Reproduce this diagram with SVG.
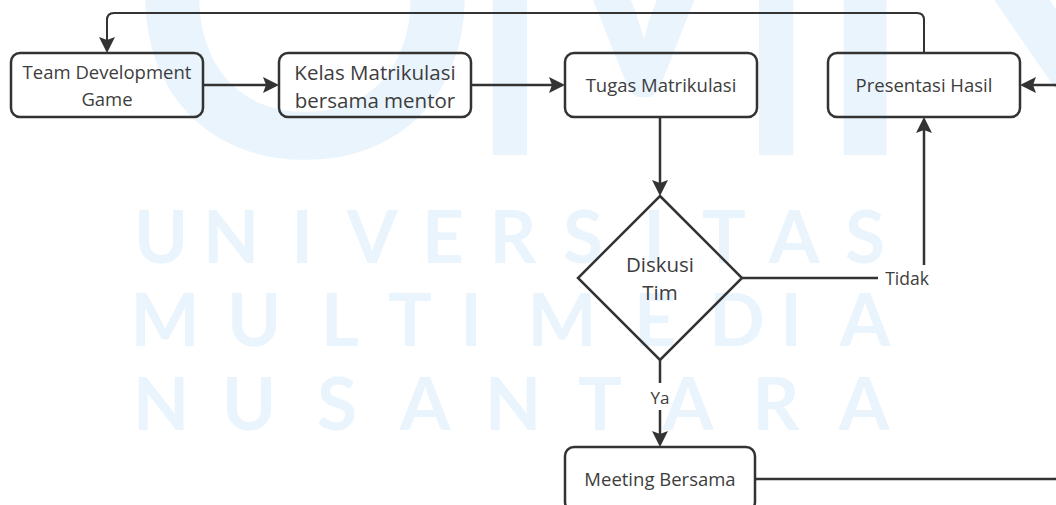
<svg xmlns="http://www.w3.org/2000/svg" width="1056" height="505" viewBox="0 0 1056 505">
<defs>
<style>
.wm{fill:#e9f4fd;font-family:Lato,"Noto Sans",sans-serif;text-anchor:middle}
.big{font-size:560px}
.row{font-size:73px;font-weight:bold}
.box{fill:none;stroke:#333;stroke-width:2.5}
.lbl{fill:#3d3d3d;font-family:"Open Sans","Noto Sans",sans-serif;text-anchor:middle}
.ln{fill:none;stroke:#333;stroke-width:2.5}
.thin{stroke-width:2}
</style>
<marker id="ah" markerUnits="userSpaceOnUse" markerWidth="20" markerHeight="20" refX="8" refY="8" orient="auto">
<path d="M0,0 L16,8 L0,16 L3,8 Z" fill="#333"/>
</marker>
</defs>
<rect width="1056" height="505" fill="#fff"/>
<g id="watermark">
<text class="wm big" x="305" y="155">U</text>
<text class="wm big" transform="translate(643,155) scale(0.72,1)" x="0" y="0">M</text>
<text class="wm big" transform="translate(990,155) scale(0.9,1)" x="0" y="0">N</text>
<text class="wm row" x="161,231,302,372,443,513,583,654,724,794,865" y="263">UNIVERSITAS</text>
<text class="wm row" x="165,254,340,410,471,562,655,737,791,865" y="346">MULTIMEDIA</text>
<text class="wm row" x="161,249,337,425,513,600,688,776,864" y="430">NUSANTARA</text>
</g>
<g id="connectors">
<path class="ln thin" d="M924,53 V20 Q924,13 917,13 H114 Q107,13 107,20 V45" marker-end="url(#ah)"/>
<path class="ln" d="M203,85 H271" marker-end="url(#ah)"/>
<path class="ln" d="M471,85 H557" marker-end="url(#ah)"/>
<path class="ln" d="M660,117 V188" marker-end="url(#ah)"/>
<path class="ln" d="M742,278 H878"/>
<path class="ln" d="M924,265 V125" marker-end="url(#ah)"/>
<text class="lbl" x="907" y="285" font-size="17.5">Tidak</text>
<path class="ln" d="M660,360 V383"/>
<path class="ln" d="M660,410 V439" marker-end="url(#ah)"/>
<text class="lbl" x="660" y="404" font-size="17">Ya</text>
<path class="ln" d="M755,479 H1054 Q1062,479 1062,471 V93 Q1062,85 1054,85 H1028" marker-end="url(#ah)"/>
</g>
<g id="team">
<rect class="box" x="11" y="53" width="192" height="64" rx="9"/>
<text class="lbl" font-size="18.5" x="107" y="79">Team Development</text>
<text class="lbl" font-size="18.5" x="107" y="106">Game</text>
</g>
<g id="kelas">
<rect class="box" x="279" y="53" width="192" height="64" rx="9"/>
<text class="lbl" font-size="20.5" x="375" y="80">Kelas Matrikulasi</text>
<text class="lbl" font-size="20.5" x="375" y="108">bersama mentor</text>
</g>
<g id="tugas">
<rect class="box" x="565" y="53" width="192" height="64" rx="9"/>
<text class="lbl" font-size="18.5" x="661" y="92">Tugas Matrikulasi</text>
</g>
<g id="presentasi">
<rect class="box" x="828" y="53" width="192" height="64" rx="9"/>
<text class="lbl" font-size="18.5" x="924" y="92">Presentasi Hasil</text>
</g>
<g id="diskusi">
<polygon class="box" points="660,196 742,278 660,360 578,278"/>
<text class="lbl" font-size="20.5" x="660" y="272">Diskusi</text>
<text class="lbl" font-size="20.5" x="660" y="300">Tim</text>
</g>
<g id="meeting">
<rect class="box" x="565" y="447" width="190" height="64" rx="9"/>
<text class="lbl" font-size="18.5" x="660" y="486">Meeting Bersama</text>
</g>
</svg>
